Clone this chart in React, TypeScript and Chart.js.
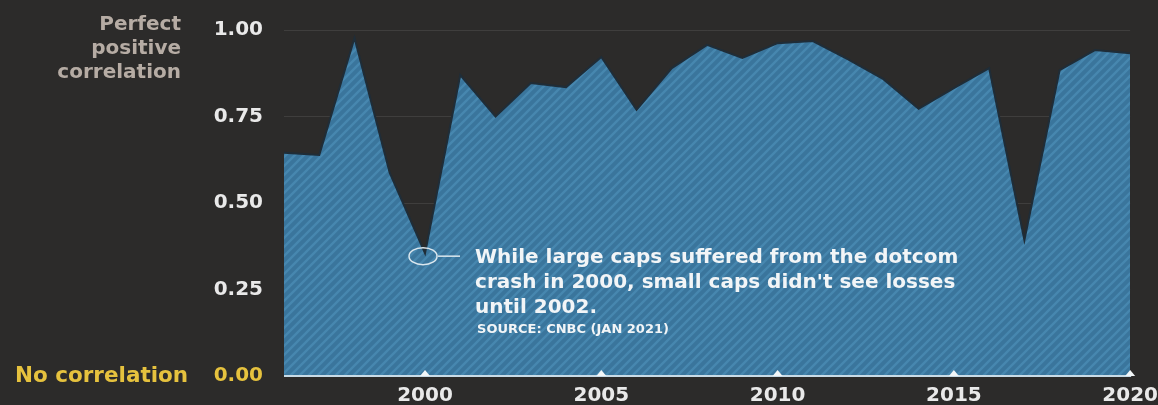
import React, { useEffect, useRef } from "react";
import { Chart, registerables } from "chart.js";

Chart.register(...registerables);

const years: string[] = [
  "1996", "1997", "1998", "1999", "2000", "2001", "2002", "2003", "2004", "2005",
  "2006", "2007", "2008", "2009", "2010", "2011", "2012", "2013", "2014", "2015",
  "2016", "2017", "2018", "2019", "2020",
];
const correlation: number[] = [
  0.645, 0.639, 0.977, 0.587, 0.355, 0.87, 0.75, 0.847, 0.835, 0.922,
  0.769, 0.89, 0.957, 0.919, 0.962, 0.968, 0.915, 0.858, 0.772, 0.832,
  0.89, 0.393, 0.884, 0.942, 0.933,
];
const yTicks: number[] = [0, 0.25, 0.5, 0.75, 1];
const topLabel: string[] = ["Perfect", "positive", "correlation"];
const bottomLabel = "No correlation";
const noteLines: string[] = [
  "While large caps suffered from the dotcom",
  "crash in 2000, small caps didn't see losses",
  "until 2002.",
];
const sourceText = "SOURCE: CNBC (JAN 2021)";
const noteYear = "2000";

const BG = "#2c2b2a";
const YELLOW = "#e6c23e";
const WHITE = "#e9e9e9";
const FONT = "'DejaVu Sans', sans-serif";

function makePattern(): CanvasPattern | string {
  const s = 9;
  const c = document.createElement("canvas");
  c.width = s;
  c.height = s;
  const g = c.getContext("2d");
  if (!g) return "#3b76a0";
  g.fillStyle = "#3a759c";
  g.fillRect(0, 0, s, s);
  g.strokeStyle = "#4787af";
  g.lineWidth = 2.4;
  g.beginPath();
  g.moveTo(-1, s + 1);
  g.lineTo(s + 1, -1);
  g.moveTo(-1, 1);
  g.lineTo(1, -1);
  g.moveTo(s - 1, s + 1);
  g.lineTo(s + 1, s - 1);
  g.stroke();
  const p = g.createPattern(c, "repeat");
  return p || "#3b76a0";
}

const decorPlugin = {
  id: "decor",
  afterDatasetsDraw(chart: any) {
    const ctx: CanvasRenderingContext2D = chart.ctx;
    const area = chart.chartArea;
    const xs = chart.scales.x;
    const ys = chart.scales.y;
    ctx.save();
    // axis line
    const y0 = ys.getPixelForValue(0);
    ctx.strokeStyle = "#c9dbe6";
    ctx.lineWidth = 2;
    ctx.beginPath();
    ctx.moveTo(area.left, y0);
    ctx.lineTo(area.right + 1, y0);
    ctx.stroke();
    // triangles at labelled ticks
    ctx.fillStyle = "#f2f6f8";
    years.forEach((yr, i) => {
      if (Number(yr) % 5 !== 0) return;
      const px = xs.getPixelForValue(i);
      ctx.beginPath();
      ctx.moveTo(px - 5, y0);
      ctx.lineTo(px + 5, y0);
      ctx.lineTo(px, y0 - 6);
      ctx.closePath();
      ctx.fill();
    });
    // annotation
    const idx = years.indexOf(noteYear);
    const cx = xs.getPixelForValue(idx) - 2;
    const cy = ys.getPixelForValue(correlation[idx]) + 3;
    ctx.strokeStyle = "#dbe7ee";
    ctx.lineWidth = 1.5;
    ctx.beginPath();
    ctx.ellipse(cx, cy, 14, 8.5, 0, 0, Math.PI * 2);
    ctx.stroke();
    ctx.beginPath();
    ctx.moveTo(cx + 15, cy);
    ctx.lineTo(cx + 37, cy);
    ctx.stroke();
    ctx.fillStyle = "#f2f5f7";
    ctx.textAlign = "left";
    ctx.textBaseline = "alphabetic";
    ctx.font = `bold 20px ${FONT}`;
    noteLines.forEach((t, i) => {
      ctx.fillText(t, cx + 52, cy + 7 + i * 25);
    });
    ctx.font = `bold 13px ${FONT}`;
    ctx.fillText(sourceText, cx + 54, cy + 77);
    // left labels
    ctx.textAlign = "right";
    ctx.font = `bold 20px ${FONT}`;
    ctx.fillStyle = "#b6aca4";
    topLabel.forEach((t, i) => {
      ctx.fillText(t, 181, 30 + i * 24);
    });
    ctx.textAlign = "left";
    ctx.textBaseline = "middle";
    ctx.fillStyle = YELLOW;
    ctx.font = `bold 21.5px ${FONT}`;
    ctx.fillText(bottomLabel, 15, y0);
    ctx.restore();
  },
};

export default function App() {
  const ref = useRef<HTMLCanvasElement | null>(null);
  useEffect(() => {
    document.body.style.margin = "0";
    document.body.style.background = BG;
    const canvas = ref.current;
    if (!canvas) return;
    const chart = new Chart(canvas, {
      type: "line",
      data: {
        labels: years,
        datasets: [
          {
            data: correlation,
            fill: "origin",
            backgroundColor: makePattern() as any,
            borderColor: "#1f2d38",
            borderWidth: 2,
            pointRadius: 0,
            tension: 0,
          },
        ],
      },
      options: {
        responsive: false,
        animation: false,
        layout: { padding: { top: 30, right: 0, bottom: 0, left: 0 } },
        plugins: { legend: { display: false }, tooltip: { enabled: false } },
        scales: {
          x: {
            type: "category",
            offset: false,
            grid: {
              display: true,
              drawOnChartArea: false,
              drawTicks: true,
              tickLength: 8,
              color: "rgba(0,0,0,0)",
              tickColor: "rgba(0,0,0,0)",
            },
            border: { display: false },
            afterFit: (s: any) => {
              s.height = 29;
            },
            ticks: {
              autoSkip: false,
              maxRotation: 0,
              padding: 0,
              color: WHITE,
              font: { family: FONT, size: 20, weight: "bold" },
              callback: (_v: any, i: number) => (Number(years[i]) % 5 === 0 ? years[i] : ""),
            },
          },
          y: {
            min: 0,
            max: 1,
            afterFit: (s: any) => {
              s.width = 284;
            },
            afterBuildTicks: (s: any) => {
              s.ticks = yTicks.map((v) => ({ value: v }));
            },
            grid: {
              color: "rgba(255,255,255,0.09)",
              drawTicks: true,
              tickLength: 21,
              tickColor: "rgba(0,0,0,0)",
            },
            border: { display: false },
            ticks: {
              padding: 0,
              color: (c: any) => (c.tick && c.tick.value === 0 ? YELLOW : WHITE),
              font: { family: FONT, size: 20, weight: "bold" },
              callback: (v: any) => Number(v).toFixed(2),
            },
          },
        },
      },
      plugins: [decorPlugin],
    });
    return () => chart.destroy();
  }, []);
  return (
    <div style={{ width: 1158, height: 405, background: BG, position: "relative" }}>
      <canvas ref={ref} width={1158} height={405} style={{ display: "block" }} />
    </div>
  );
}
